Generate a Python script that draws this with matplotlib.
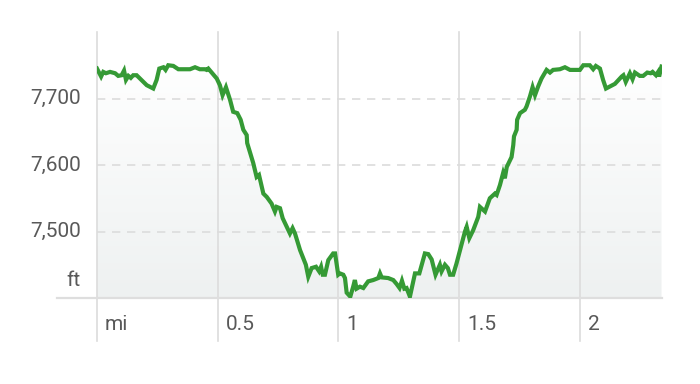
import numpy as np
import matplotlib
matplotlib.use("Agg")
import matplotlib.pyplot as plt
from matplotlib.colors import LinearSegmentedColormap

# elevation profile, distance in miles / elevation in feet
dist_mi = [
    0.00, 0.017, 0.026, 0.037, 0.054, 0.075, 0.088, 0.102, 0.112, 0.120,
    0.130, 0.140, 0.150, 0.164, 0.178, 0.206, 0.233, 0.247, 0.258, 0.275,
    0.284, 0.295, 0.316, 0.337, 0.371, 0.385, 0.406, 0.426, 0.447, 0.454,
    0.461, 0.475, 0.496, 0.509, 0.520, 0.534, 0.551, 0.564, 0.581, 0.595,
    0.606, 0.620, 0.622, 0.647, 0.661, 0.671, 0.689, 0.703, 0.723, 0.737,
    0.744, 0.758, 0.769, 0.799, 0.810, 0.820, 0.841, 0.865, 0.875, 0.889,
    0.907, 0.920, 0.928, 0.935, 0.944, 0.958, 0.978, 0.986, 0.999, 1.006,
    1.020, 1.027, 1.034, 1.049, 1.061, 1.068, 1.075, 1.089, 1.103, 1.123,
    1.144, 1.165, 1.172, 1.179, 1.206, 1.227, 1.241, 1.253, 1.263, 1.273,
    1.282, 1.296, 1.317, 1.335, 1.358, 1.372, 1.386, 1.402, 1.420, 1.427,
    1.441, 1.453, 1.462, 1.475, 1.489, 1.524, 1.531, 1.542, 1.558, 1.579,
    1.586, 1.607, 1.627, 1.648, 1.655, 1.669, 1.682, 1.689, 1.697, 1.717,
    1.724, 1.727, 1.738, 1.740, 1.752, 1.772, 1.779, 1.793, 1.804, 1.814,
    1.827, 1.841, 1.862, 1.876, 1.889, 1.917, 1.938, 1.959, 2.000, 2.014,
    2.041, 2.055, 2.066, 2.083, 2.096, 2.108, 2.124, 2.145, 2.173, 2.180,
    2.190, 2.207, 2.218, 2.228, 2.248, 2.262, 2.279, 2.293, 2.301, 2.315,
    2.324, 2.328, 2.338,
]
elev_ft = [
    7745, 7733, 7740, 7738, 7740, 7738, 7734, 7735, 7742, 7728,
    7734, 7731, 7735, 7735, 7730, 7720, 7715, 7728, 7745, 7747,
    7743, 7750, 7749, 7744, 7744, 7744, 7747, 7744, 7744, 7743,
    7745, 7739, 7730, 7720, 7705, 7717, 7698, 7680, 7678, 7668,
    7653, 7645, 7633, 7603, 7582, 7585, 7557, 7552, 7542, 7530,
    7537, 7535, 7520, 7497, 7505, 7497, 7472, 7450, 7432, 7445,
    7447, 7440, 7447, 7435, 7435, 7457, 7467, 7467, 7435, 7437,
    7435, 7430, 7408, 7402, 7417, 7427, 7414, 7417, 7415, 7425,
    7427, 7430, 7437, 7431, 7430, 7427, 7421, 7415, 7426, 7414,
    7415, 7402, 7437, 7437, 7467, 7466, 7458, 7435, 7450, 7440,
    7450, 7445, 7435, 7435, 7452, 7500, 7507, 7490, 7502, 7522,
    7537, 7530, 7550, 7557, 7555, 7570, 7588, 7580, 7597, 7612,
    7630, 7643, 7653, 7668, 7678, 7683, 7688, 7703, 7717, 7705,
    7718, 7730, 7743, 7739, 7743, 7744, 7747, 7743, 7743, 7750,
    7750, 7744, 7749, 7745, 7728, 7715, 7718, 7722, 7733, 7735,
    7725, 7738, 7729, 7739, 7734, 7734, 7739, 7738, 7740, 7735,
    7740, 7733, 7748,
]

y_ticks = [7500, 7600, 7700]
y_labels = ["7,500", "7,600", "7,700"]
x_ticks = [0, 0.5, 1, 1.5, 2]
x_labels = ["mi", "0.5", "1", "1.5", "2"]

FONT = ["Roboto", "DejaVu Sans"]
LINE_GREEN = "#359a35"
GRID = "#dcdcdc"
TEXT = "#595959"

fig = plt.figure(figsize=(7.0, 3.84), dpi=100)
ax = fig.add_axes([97 / 700, 1 - 298 / 384, 565 / 700, 266 / 384])

x_min, x_max = 0, 2.34
y_min, y_max = 7400, 7800
ax.set_xlim(x_min, x_max)
ax.set_ylim(y_min, y_max)

# gradient fill under the profile
fill = ax.fill_between(dist_mi, elev_ft, y_min, facecolor="none", edgecolor="none")
cmap = LinearSegmentedColormap.from_list("fade", ["#eef1f1", "#ffffff"])
grad = np.linspace(0, 1, 256).reshape(-1, 1)
img = ax.imshow(grad, cmap=cmap, aspect="auto", origin="lower",
                extent=[x_min, x_max, y_min, 7760], zorder=1)
img.set_clip_path(fill.get_paths()[0], transform=ax.transData)

# dashed horizontal grid
for yt in y_ticks:
    ax.axhline(yt, color=GRID, lw=1.2, ls=(0, (5, 4)), zorder=2)

# vertical grid, running down into the label area
for xt in x_ticks:
    ax.plot([xt, xt], [-0.16, 1.0], color=GRID, lw=1.2,
            transform=ax.get_xaxis_transform(), clip_on=False, zorder=2)

# baseline, extends left under the unit label
ax.plot([-40 / 565, 1.0], [0, 0], color="#dedede", lw=1.6,
        transform=ax.transAxes, clip_on=False, zorder=2)

ax.plot(dist_mi, elev_ft, color=LINE_GREEN, lw=3.0, solid_joinstyle="miter",
        zorder=3)

for spine in ax.spines.values():
    spine.set_visible(False)
ax.set_xticks([])
ax.set_yticks([])

# y labels right aligned left of plot
for yt, lab in zip(y_ticks, y_labels):
    ax.annotate(lab, xy=(0, yt), xycoords=("axes fraction", "data"),
                xytext=(-16, 0), textcoords="offset pixels",
                ha="right", va="center", fontsize=15, color=TEXT, family=FONT)
ax.annotate("ft", xy=(0, 0), xycoords="axes fraction",
            xytext=(-16, 18), textcoords="offset pixels",
            ha="right", va="center", fontsize=15, color=TEXT, family=FONT)

# x labels sit just right of each grid line
for xt, lab in zip(x_ticks, x_labels):
    ax.annotate(lab, xy=(xt, 0), xycoords=("data", "axes fraction"),
                xytext=(8, -27), textcoords="offset pixels",
                ha="left", va="center", fontsize=15, color=TEXT, family=FONT)

fig.savefig("out.png", dpi=100, facecolor="white")
